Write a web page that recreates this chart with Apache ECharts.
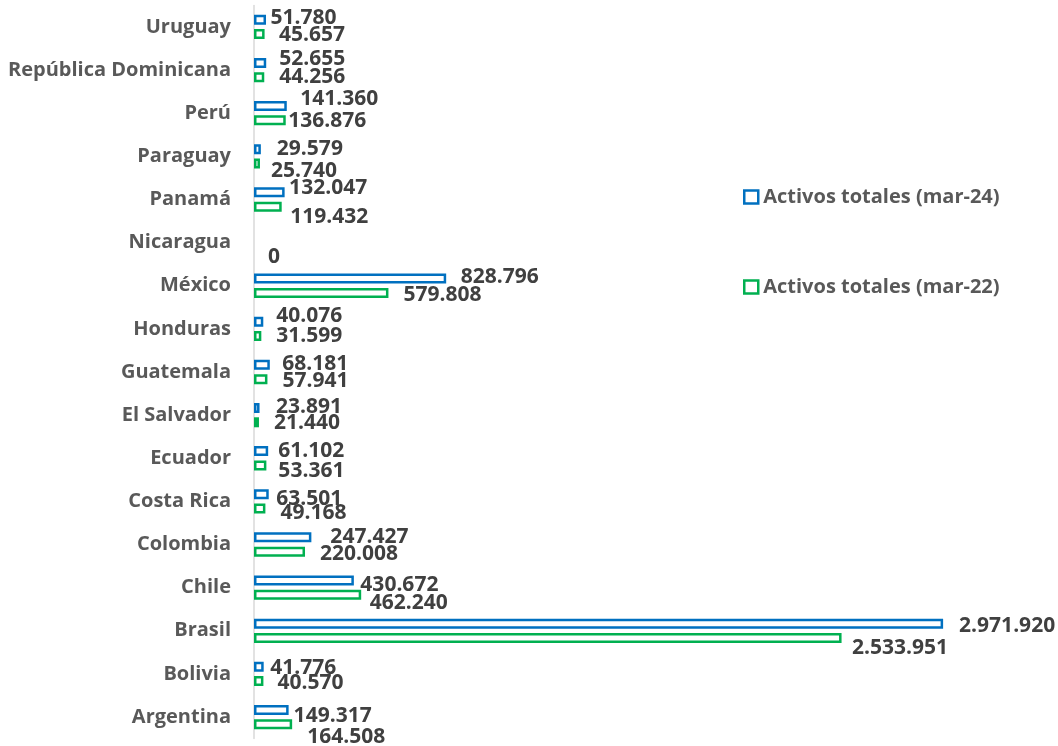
<!DOCTYPE html>
<html>
<head>
<meta charset="utf-8">
<script src="https://cdn.jsdelivr.net/npm/echarts@6/dist/echarts.min.js"></script>
<style>
html,body{margin:0;padding:0;background:#fff;}
#chart{width:1058px;height:746px;}
</style>
</head>
<body>
<div id="chart"></div>
<script>
const categories = ['Argentina','Bolivia','Brasil','Chile','Colombia','Costa Rica','Ecuador','El Salvador','Guatemala','Honduras','México','Nicaragua','Panamá','Paraguay','Perú','República Dominicana','Uruguay'];
const mar24 = [149317,41776,2971920,430672,247427,63501,61102,23891,68181,40076,828796,0,132047,29579,141360,52655,51780];
const mar22 = [164508,40570,2533951,462240,220008,49168,53361,21440,57941,31599,579808,0,119432,25740,136876,44256,45657];
const seriesNames = ['Activos totales (mar-24)','Activos totales (mar-22)'];

// label nudges (style only)
const off24 = [[5,6],[6.5,1],[16,2],[6.5,4.5],[19,0],[7.5,5],[10,0],[16.5,-1],[12.5,-1],[13,-6],[14.5,-1.5],[0,0],[4.5,-4],[16,0],[13.5,-7],[13,-4],[4.5,-2]];
const off22 = [[15,12.5],[14,2],[10.5,10],[8.5,8],[15,2.5],[15,4.5],[12,5.5],[15,1],[15,2],[15,0],[15,2],[14,7],[8.5,10],[11,7.5],[2.5,0.5],[15,0],[14.5,1]];

const fmt = v => String(v).replace(/\B(?=(\d{3})+(?!\d))/g, '.');
const FONT = 'Open Sans';
const labelBase = {show:true, position:'right', distance:0, fontFamily:FONT, fontWeight:'bold', fontSize:21, color:'#404040', formatter:p=>fmt(p.value)};

const blue = '#0070C0', green = '#00B050';
const mkData = (vals, offs, col, showZeroLabel) => vals.map((v,i)=>({
  value:v,
  itemStyle: v === 0 ? {borderWidth:0, color:'rgba(0,0,0,0)'} : {color:'#fff', borderColor:col, borderWidth:2.5},
  label:Object.assign({}, labelBase, {offset:offs[i], show: v !== 0 || showZeroLabel})
}));

const chart = echarts.init(document.getElementById('chart'));
chart.setOption({
  animation:false,
  grid:{left:254, right:62, top:5.4, bottom:7.4, containLabel:false},
  legend:{
    orient:'vertical', left:743, top:187, padding:0, itemGap:70, itemWidth:14, itemHeight:13, icon:'rect',
    textStyle:{fontFamily:FONT, fontWeight:'bold', fontSize:20, color:'#595959'},
    data:[
      {name:seriesNames[0], itemStyle:{color:'#fff', borderColor:blue, borderWidth:2.5}},
      {name:seriesNames[1], itemStyle:{color:'#fff', borderColor:green, borderWidth:2.5}}
    ]
  },
  xAxis:{type:'value', min:0, max:3200000, show:false},
  yAxis:{type:'category', data:categories,
    axisLine:{show:true, lineStyle:{color:'#D9D9D9', width:1.5}},
    axisTick:{show:false},
    axisLabel:{margin:23, fontFamily:FONT, fontWeight:'bold', fontSize:20, color:'#595959'}
  },
  series:[
    {name:seriesNames[0], type:'bar', barWidth:10, barGap:'43%',
      itemStyle:{color:'#fff', borderColor:blue, borderWidth:2.5},
      data:mkData(mar24, off24, blue, false)
    },
    {name:seriesNames[1], type:'bar', barWidth:10, barGap:'43%',
      itemStyle:{color:'#fff', borderColor:green, borderWidth:2.5},
      data:mkData(mar22, off22, green, true)
    }
  ]
});
</script>
</body>
</html>
